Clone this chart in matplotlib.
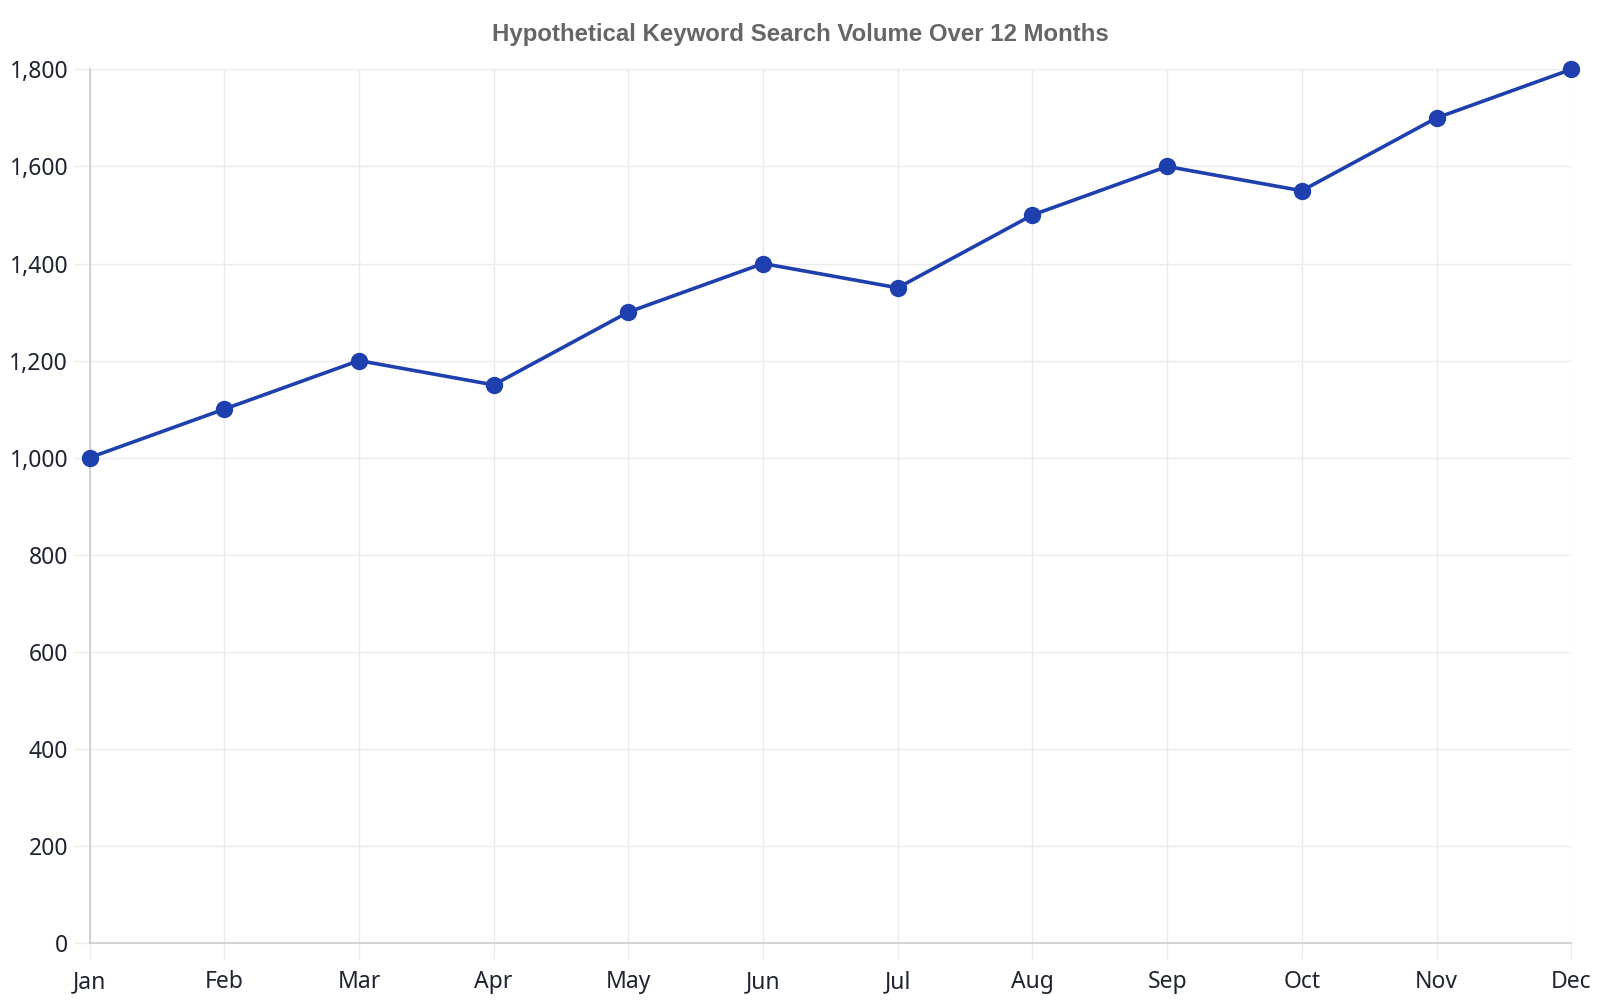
import matplotlib.pyplot as plt
from matplotlib.ticker import FuncFormatter

# Data
mesice = ['Jan', 'Feb', 'Mar', 'Apr', 'May', 'Jun', 'Jul', 'Aug', 'Sep', 'Oct', 'Nov', 'Dec']
hledanost = [1000, 1100, 1200, 1150, 1300, 1400, 1350, 1500, 1600, 1550, 1700, 1800]
y_ticks = [0, 200, 400, 600, 800, 1000, 1200, 1400, 1600, 1800]

barva = '#1e3fae'
mrizka = '#ebebeb'
text_barva = '#1f2430'

fig = plt.figure(figsize=(16, 10), dpi=100)
ax = fig.add_axes([0.056, 0.057, 0.926, 0.8736])

x = list(range(len(mesice)))
ax.plot(x, hledanost, color=barva, linewidth=2.6, marker='o', markersize=11.5,
        markerfacecolor=barva, markeredgecolor=barva, zorder=3, clip_on=False)

ax.set_xlim(0, len(mesice) - 1)
ax.set_ylim(0, 1800)
ax.set_xticks(x)
ax.set_xticklabels(mesice)
ax.set_yticks(y_ticks)
ax.yaxis.set_major_formatter(FuncFormatter(lambda v, p: f'{int(v):,}'))

ax.grid(True, color=mrizka, linewidth=1)
ax.set_axisbelow(True)
for s in ['top', 'right']:
    ax.spines[s].set_visible(False)
ax.spines['left'].set_color('#cccccc')
ax.spines['bottom'].set_color('#cccccc')
ax.spines['left'].set_linewidth(1.2)
ax.spines['bottom'].set_linewidth(1.2)

ax.tick_params(axis='both', length=11.5, color=mrizka, width=1,
               labelsize=16.5, labelcolor=text_barva)
for lbl in ax.get_xticklabels() + ax.get_yticklabels():
    lbl.set_fontfamily('Noto Sans')
ax.tick_params(axis='x', pad=8)
ax.tick_params(axis='y', pad=4)

fig.text(0.5, 0.965, 'Hypothetical Keyword Search Volume Over 12 Months',
         ha='center', va='center', fontsize=17.3, fontweight='bold',
         color='#666666', family='Liberation Sans')

fig.savefig('out.png', dpi=100)
